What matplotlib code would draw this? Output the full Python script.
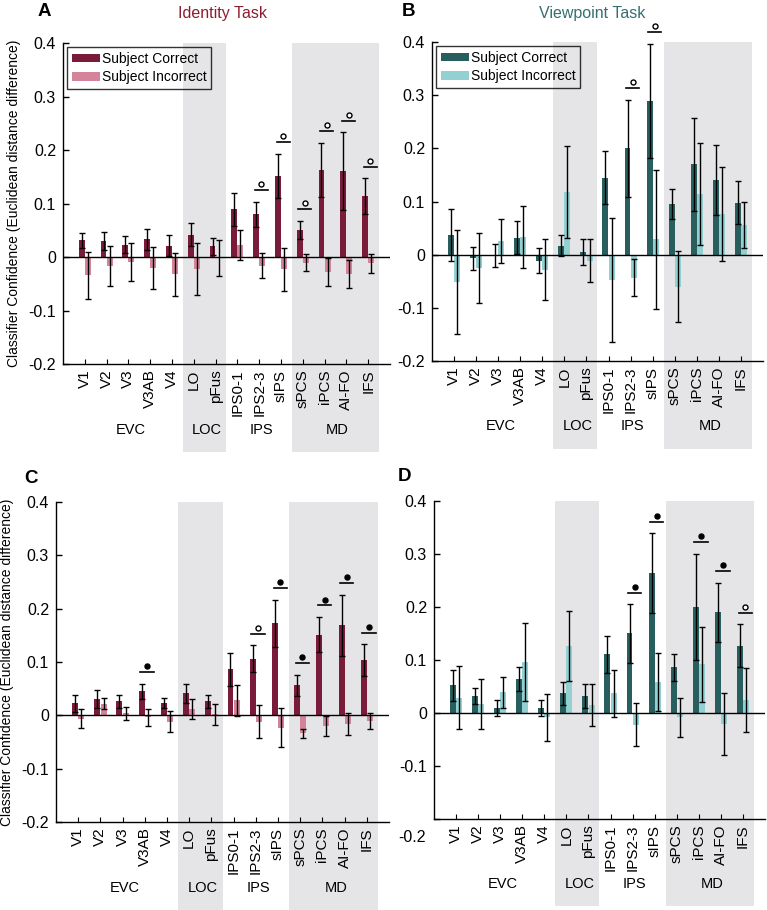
import numpy as np
import matplotlib
matplotlib.use("Agg")
import matplotlib.pyplot as plt
from matplotlib.patches import Rectangle

plt.rcParams['font.family'] = ['Liberation Sans', 'DejaVu Sans']

regions = ['V1', 'V2', 'V3', 'V3AB', 'V4', 'LO', 'pFus', 'IPS0-1', 'IPS2-3',
           'sIPS', 'sPCS', 'iPCS', 'AI-FO', 'IFS']
groups = ['EVC', 'LOC', 'IPS', 'MD']
group_sizes = [5, 2, 3, 4]
shaded_groups = ['LOC', 'MD']
y_ticks = [0.4, 0.3, 0.2, 0.1, 0, -0.1, -0.2]
y_tick_labels = ['0.4', '0.3', '0.2', '0.1', '0', '-0.1', '-0.2']

# identity task, all trials (A)
A_corr = [0.031, 0.030, 0.023, 0.033, 0.021, 0.042, 0.020, 0.089, 0.080, 0.152, 0.051, 0.163, 0.160, 0.114]
A_corr_err = [0.014, 0.016, 0.016, 0.019, 0.020, 0.021, 0.016, 0.031, 0.023, 0.041, 0.017, 0.050, 0.073, 0.033]
A_inc = [-0.034, -0.017, -0.009, -0.020, -0.032, -0.022, -0.002, 0.022, -0.016, -0.023, -0.011, -0.028, -0.031, -0.012]
A_inc_err = [0.044, 0.037, 0.036, 0.039, 0.040, 0.049, 0.033, 0.028, 0.023, 0.040, 0.016, 0.026, 0.026, 0.018]
A_sig = {'IPS2-3': 'open', 'sIPS': 'open', 'sPCS': 'open', 'iPCS': 'open', 'AI-FO': 'open', 'IFS': 'open'}

# viewpoint task (B)
B_corr = [0.037, -0.007, -0.001, 0.032, -0.011, 0.017, 0.005, 0.145, 0.200, 0.289, 0.095, 0.170, 0.140, 0.098]
B_corr_err = [0.048, 0.022, 0.022, 0.031, 0.024, 0.020, 0.025, 0.050, 0.091, 0.108, 0.028, 0.087, 0.066, 0.041]
B_inc = [-0.051, -0.025, 0.026, 0.033, -0.028, 0.118, -0.011, -0.048, -0.043, 0.029, -0.060, 0.114, 0.076, 0.056]
B_inc_err = [0.098, 0.065, 0.041, 0.058, 0.057, 0.086, 0.040, 0.117, 0.034, 0.131, 0.066, 0.096, 0.088, 0.044]
B_sig = {'IPS2-3': 'open', 'sIPS': 'open'}

# identity task (C)
C_corr = [0.023, 0.031, 0.026, 0.045, 0.023, 0.041, 0.026, 0.086, 0.106, 0.173, 0.056, 0.151, 0.169, 0.103]
C_corr_err = [0.016, 0.017, 0.013, 0.014, 0.009, 0.018, 0.012, 0.031, 0.025, 0.044, 0.020, 0.033, 0.057, 0.030]
C_inc = [-0.006, 0.022, 0.004, -0.004, -0.012, 0.012, 0.002, 0.028, -0.012, -0.023, -0.034, -0.020, -0.016, -0.011]
C_inc_err = [0.018, 0.011, 0.012, 0.016, 0.020, 0.019, 0.020, 0.029, 0.031, 0.037, 0.009, 0.019, 0.020, 0.015]
C_sig = {'V3AB': 'filled', 'IPS2-3': 'open', 'sIPS': 'filled', 'sPCS': 'filled', 'iPCS': 'filled',
         'AI-FO': 'filled', 'IFS': 'filled'}

# viewpoint task (D)
D_corr = [0.052, 0.032, 0.010, 0.064, 0.010, 0.037, 0.032, 0.111, 0.150, 0.264, 0.086, 0.200, 0.190, 0.127]
D_corr_err = [0.030, 0.015, 0.015, 0.022, 0.015, 0.022, 0.022, 0.035, 0.055, 0.075, 0.025, 0.100, 0.056, 0.040]
D_inc = [0.029, 0.017, 0.039, 0.096, -0.008, 0.126, 0.015, 0.037, -0.022, 0.059, -0.008, 0.092, -0.021, 0.024]
D_inc_err = [0.060, 0.047, 0.029, 0.073, 0.044, 0.066, 0.040, 0.044, 0.040, 0.055, 0.037, 0.071, 0.059, 0.060]
D_sig = {'IPS2-3': 'filled', 'sIPS': 'filled', 'iPCS': 'filled', 'AI-FO': 'filled', 'IFS': 'open'}

RED_DARK, RED_LIGHT = '#7a1b3a', '#d4849a'
TEAL_DARK, TEAL_LIGHT = '#285e5d', '#93d0d1'
GREY = '#e5e5e8'
FS = 10


def draw_panel(ax, corr, corr_err, inc, inc_err, sig, dark, light, legend=False, ylabel=False):
    x = np.arange(1, len(regions) + 1)
    w = 0.27

    # shaded ROI groups, running down under the labels
    start = 0.5
    for g, n in zip(groups, group_sizes):
        if g in shaded_groups:
            ax.add_patch(Rectangle((start, -0.365), n, 0.765, facecolor=GREY,
                                   edgecolor='none', clip_on=False, zorder=0))
        ax.text(start + n / 2 + 0.1, -0.323, g, ha='center', va='center', fontsize=FS + 0.5)
        start += n

    ax.bar(x - 0.14, corr, w, color=dark, label='Subject Correct', zorder=2)
    ax.bar(x + 0.14, inc, w, color=light, label='Subject Incorrect', zorder=2)
    ax.errorbar(x - 0.14, corr, yerr=corr_err, fmt='none', ecolor='black',
                elinewidth=1.0, capsize=2.2, capthick=1.0, zorder=3)
    ax.errorbar(x + 0.14, inc, yerr=inc_err, fmt='none', ecolor='black',
                elinewidth=1.0, capsize=2.2, capthick=1.0, zorder=3)

    ax.axhline(0, color='black', lw=1.0, zorder=4)

    # significance bars
    for name, kind in sig.items():
        i = regions.index(name)
        top = max(corr[i] + corr_err[i], inc[i] + inc_err[i]) + 0.022
        ax.plot([x[i] - 0.2, x[i] + 0.4], [top, top], color='black', lw=1.2,
                clip_on=False, zorder=5)
        face = 'black' if kind == 'filled' else 'white'
        ax.plot(x[i] + 0.1, top + 0.011, marker='o', ms=3.6, mfc=face, mec='black',
                mew=1.0, clip_on=False, zorder=5)

    ax.set_xlim(0, 15)
    ax.set_ylim(-0.2, 0.4)
    ax.set_xticks(x)
    ax.set_xticklabels(regions, rotation=90, fontsize=FS + 1)
    ax.set_yticks(y_ticks)
    ax.set_yticklabels(y_tick_labels, fontsize=FS + 1.5)
    ax.tick_params(axis='y', direction='in', length=4, width=1, pad=5)
    ax.tick_params(axis='x', direction='in', length=3.5, width=0.8, pad=4)
    ax.spines['top'].set_visible(False)
    ax.spines['right'].set_visible(False)
    ax.spines['left'].set_linewidth(1.0)
    ax.spines['bottom'].set_linewidth(1.0)
    ax.set_facecolor('none')

    if ylabel:
        ax.set_ylabel('Classifier Confidence (Euclidean distance difference)', fontsize=FS, labelpad=5)
    if legend:
        leg = ax.legend(loc='upper left', fontsize=FS, frameon=True, fancybox=False,
                        handlelength=2.0, handleheight=0.55, handletextpad=0.15,
                        borderpad=0.35, labelspacing=0.3, borderaxespad=0.3)
        leg.get_frame().set_edgecolor('black')
        leg.get_frame().set_facecolor('none')
        leg.get_frame().set_linewidth(1.0)


fig = plt.figure(figsize=(7.67, 9.10), dpi=100)
axA = fig.add_axes([0.0821, 0.600, 0.4263, 0.3527])
axB = fig.add_axes([0.5632, 0.6033, 0.4316, 0.3505])
axC = fig.add_axes([0.0730, 0.0967, 0.4342, 0.3517])
axD = fig.add_axes([0.5658, 0.1000, 0.4316, 0.3495])

draw_panel(axA, A_corr, A_corr_err, A_inc, A_inc_err, A_sig, RED_DARK, RED_LIGHT, legend=True, ylabel=True)
draw_panel(axB, B_corr, B_corr_err, B_inc, B_inc_err, B_sig, TEAL_DARK, TEAL_LIGHT, legend=True)
draw_panel(axC, C_corr, C_corr_err, C_inc, C_inc_err, C_sig, RED_DARK, RED_LIGHT, ylabel=True)
draw_panel(axD, D_corr, D_corr_err, D_inc, D_inc_err, D_sig, TEAL_DARK, TEAL_LIGHT)

# the -0.2 label in D sits lower than its tick in the original
axD.get_yticklabels()[-1].set_visible(False)
axD.annotate('-0.2', xy=(0, -0.2), xycoords=('axes fraction', 'data'), xytext=(-6, -13),
             textcoords='offset points', ha='right', va='center', fontsize=FS + 1.5)

fig.text(0.290, 0.985, 'Identity Task', color='#8c1d2f', fontsize=11.5, ha='center', va='center')
fig.text(0.772, 0.985, 'Viewpoint Task', color='#35706f', fontsize=11.5, ha='center', va='center')
for lbl, (fx, fy) in zip('ABCD', [(0.058, 0.987), (0.532, 0.987), (0.041, 0.474), (0.527, 0.476)]):
    fig.text(fx, fy, lbl, fontsize=13.5, fontweight='bold', ha='center', va='center')

fig.savefig('out.png', dpi=100)
